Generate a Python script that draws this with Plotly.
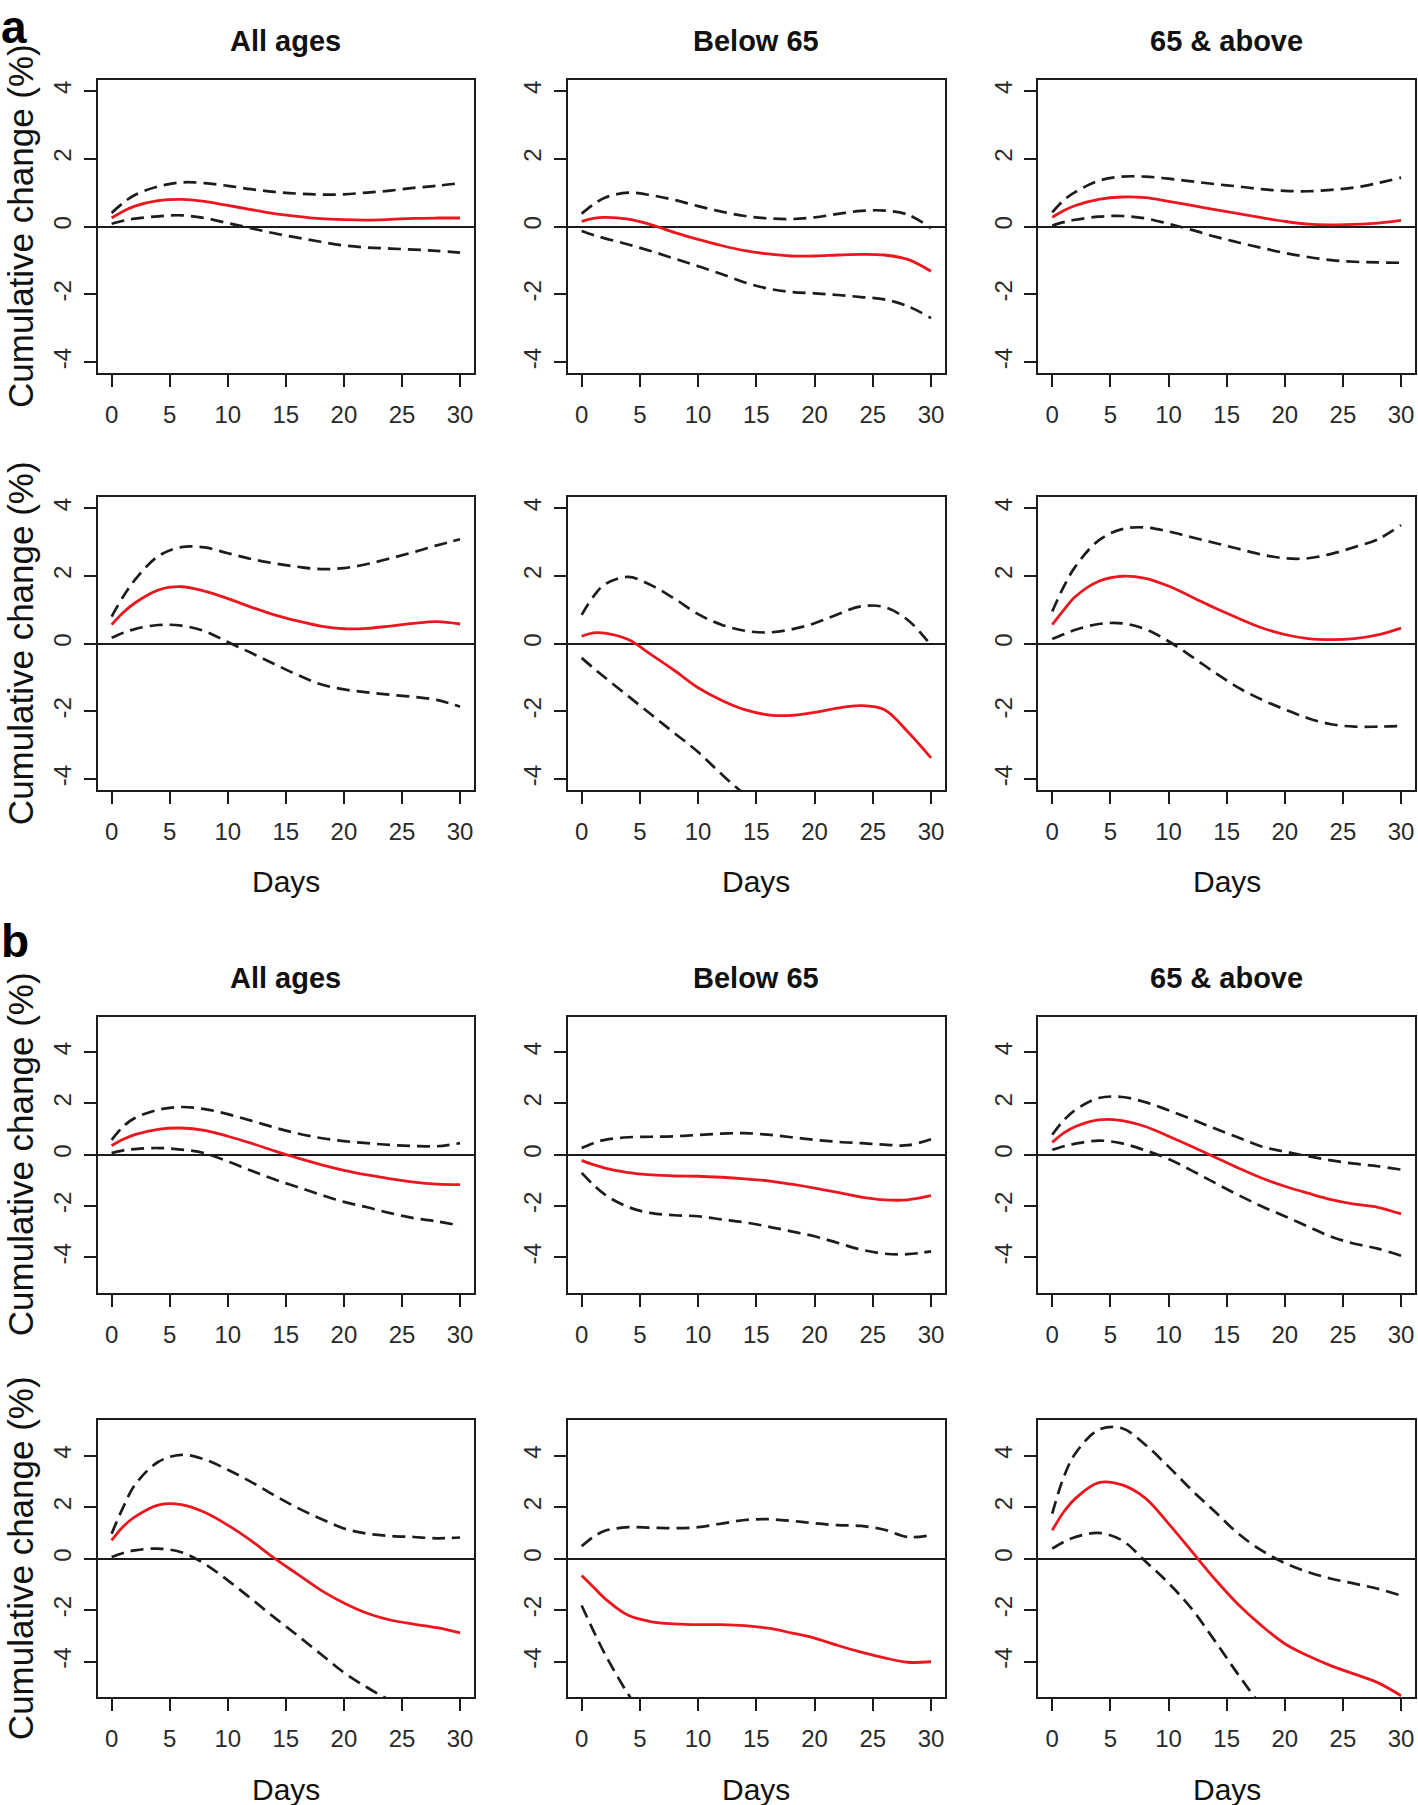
import plotly.graph_objects as go

# ---------------- data ----------------
days = [0, 1, 2, 4, 6, 8, 10, 12, 14, 16, 18, 20, 22, 24, 26, 28, 30]
panel_titles = ["All ages", "Below 65", "65 & above"]
x_ticks = [0, 5, 10, 15, 20, 25, 30]
y_ticks = [-4, -2, 0, 2, 4]
section_labels = ["a", "b"]
y_title = "Cumulative change (%)"
x_title = "Days"

# panel a, top row
a1_est = [0.25, 0.45, 0.6, 0.76, 0.8, 0.74, 0.62, 0.5, 0.38, 0.3, 0.23, 0.2, 0.19, 0.21, 0.24, 0.25, 0.25]
a1_upper = [0.4, 0.7, 0.93, 1.18, 1.3, 1.28, 1.2, 1.1, 1.02, 0.97, 0.94, 0.95, 1.0, 1.06, 1.14, 1.2, 1.28]
a1_lower = [0.08, 0.17, 0.23, 0.3, 0.33, 0.25, 0.1, -0.05, -0.2, -0.33, -0.45, -0.56, -0.62, -0.65, -0.68, -0.72, -0.77]

a2_est = [0.15, 0.24, 0.27, 0.22, 0.05, -0.18, -0.38, -0.56, -0.71, -0.81, -0.87, -0.87, -0.84, -0.82, -0.84, -0.97, -1.32]
a2_upper = [0.38, 0.65, 0.85, 1.0, 0.92, 0.78, 0.6, 0.44, 0.31, 0.24, 0.22, 0.27, 0.37, 0.46, 0.47, 0.35, -0.05]
a2_lower = [-0.13, -0.25, -0.35, -0.53, -0.73, -0.95, -1.17, -1.4, -1.65, -1.83, -1.93, -1.97, -2.02, -2.08, -2.15, -2.35, -2.7]

a3_est = [0.27, 0.47, 0.62, 0.8, 0.87, 0.85, 0.74, 0.62, 0.5, 0.38, 0.26, 0.15, 0.07, 0.05, 0.06, 0.1, 0.18]
a3_upper = [0.42, 0.78, 1.02, 1.35, 1.47, 1.47, 1.41, 1.33, 1.25, 1.18, 1.1, 1.05, 1.04, 1.08, 1.15, 1.28, 1.44]
a3_lower = [0.03, 0.13, 0.2, 0.29, 0.31, 0.24, 0.08, -0.1, -0.3, -0.47, -0.63, -0.78, -0.9, -0.99, -1.04, -1.06, -1.07]

# panel a, bottom row
a4_est = [0.56, 0.92, 1.2, 1.58, 1.68, 1.55, 1.33, 1.08, 0.85, 0.67, 0.52, 0.44, 0.45, 0.52, 0.6, 0.65, 0.58]
a4_upper = [0.8, 1.39, 1.88, 2.58, 2.85, 2.84, 2.67, 2.5, 2.37, 2.27, 2.2, 2.23, 2.35, 2.52, 2.7, 2.9, 3.08]
a4_lower = [0.17, 0.32, 0.43, 0.55, 0.53, 0.37, 0.05, -0.27, -0.6, -0.92, -1.2, -1.35, -1.44, -1.51, -1.57, -1.66, -1.86]

a5_est = [0.22, 0.32, 0.31, 0.12, -0.33, -0.8, -1.3, -1.67, -1.95, -2.1, -2.12, -2.03, -1.9, -1.83, -1.95, -2.6, -3.37]
a5_upper = [0.85, 1.39, 1.75, 1.97, 1.72, 1.32, 0.87, 0.56, 0.38, 0.33, 0.42, 0.6, 0.87, 1.1, 1.08, 0.7, -0.05]
a5_lower = [-0.42, -0.72, -1.0, -1.55, -2.1, -2.65, -3.2, -3.85, -4.45, -4.95, -5.3, -5.5, -5.6, -5.7, -6.0, -6.5, -7.2]

a6_est = [0.56, 1.0, 1.39, 1.84, 1.99, 1.93, 1.7, 1.38, 1.05, 0.75, 0.47, 0.27, 0.15, 0.12, 0.15, 0.26, 0.46]
a6_upper = [0.95, 1.69, 2.28, 3.05, 3.38, 3.43, 3.31, 3.14, 2.97, 2.8, 2.63, 2.52, 2.52, 2.65, 2.85, 3.08, 3.5]
a6_lower = [0.14, 0.28, 0.41, 0.58, 0.6, 0.43, 0.07, -0.38, -0.86, -1.3, -1.65, -1.94, -2.2, -2.38, -2.45, -2.45, -2.43]

# panel b, top row
b1_est = [0.35, 0.6, 0.78, 0.99, 1.04, 0.95, 0.72, 0.45, 0.15, -0.13, -0.39, -0.61, -0.79, -0.94, -1.07, -1.15, -1.17]
b1_upper = [0.58, 1.1, 1.43, 1.75, 1.86, 1.78, 1.58, 1.33, 1.06, 0.83, 0.65, 0.53, 0.45, 0.38, 0.34, 0.33, 0.45]
b1_lower = [0.06, 0.17, 0.22, 0.26, 0.2, 0.06, -0.26, -0.62, -0.96, -1.26, -1.56, -1.84, -2.05, -2.28, -2.47, -2.6, -2.77]

b2_est = [-0.22, -0.39, -0.52, -0.7, -0.79, -0.83, -0.84, -0.88, -0.94, -1.02, -1.15, -1.3, -1.47, -1.65, -1.76, -1.76, -1.6]
b2_upper = [0.26, 0.45, 0.58, 0.68, 0.7, 0.72, 0.77, 0.82, 0.84, 0.78, 0.68, 0.58, 0.5, 0.45, 0.39, 0.37, 0.6]
b2_lower = [-0.71, -1.17, -1.56, -2.04, -2.28, -2.36, -2.4, -2.52, -2.64, -2.8, -2.99, -3.18, -3.44, -3.7, -3.86, -3.88, -3.77]

b3_est = [0.48, 0.85, 1.1, 1.36, 1.33, 1.1, 0.72, 0.32, -0.1, -0.52, -0.91, -1.23, -1.5, -1.75, -1.93, -2.05, -2.31]
b3_upper = [0.78, 1.35, 1.75, 2.21, 2.25, 2.05, 1.73, 1.38, 1.02, 0.67, 0.32, 0.12, -0.06, -0.22, -0.35, -0.45, -0.58]
b3_lower = [0.19, 0.33, 0.43, 0.55, 0.44, 0.17, -0.17, -0.62, -1.1, -1.57, -2.01, -2.4, -2.8, -3.2, -3.47, -3.66, -3.94]

# panel b, bottom row
b4_est = [0.71, 1.25, 1.62, 2.08, 2.1, 1.8, 1.3, 0.7, 0.02, -0.6, -1.22, -1.72, -2.12, -2.38, -2.54, -2.68, -2.88]
b4_upper = [0.97, 2.0, 2.86, 3.75, 4.03, 3.85, 3.45, 2.98, 2.46, 1.97, 1.55, 1.17, 0.97, 0.88, 0.84, 0.79, 0.82]
b4_lower = [0.06, 0.22, 0.32, 0.39, 0.25, -0.2, -0.84, -1.55, -2.28, -2.98, -3.7, -4.42, -5.0, -5.5, -5.9, -6.2, -6.5]

b5_est = [-0.65, -1.1, -1.55, -2.2, -2.45, -2.53, -2.56, -2.56, -2.6, -2.7, -2.88, -3.08, -3.37, -3.63, -3.85, -4.02, -4.0]
b5_upper = [0.48, 0.84, 1.08, 1.22, 1.2, 1.18, 1.22, 1.36, 1.5, 1.53, 1.47, 1.37, 1.3, 1.27, 1.12, 0.84, 0.91]
b5_lower = [-1.82, -2.79, -3.7, -5.26, -6.5, -7.2, -7.5, -7.6, -7.7, -7.9, -8.2, -8.5, -8.9, -9.3, -9.8, -10.2, -10.0]

b6_est = [1.1, 1.82, 2.34, 2.95, 2.86, 2.35, 1.36, 0.28, -0.8, -1.78, -2.6, -3.3, -3.77, -4.16, -4.48, -4.81, -5.32]
b6_upper = [1.75, 3.18, 4.09, 5.0, 5.06, 4.42, 3.57, 2.66, 1.82, 0.97, 0.32, -0.17, -0.52, -0.78, -0.97, -1.17, -1.43]
b6_lower = [0.39, 0.65, 0.84, 1.0, 0.71, -0.1, -0.95, -1.95, -3.2, -4.5, -5.7, -6.6, -7.2, -7.6, -7.9, -8.1, -8.3]

panels = [
    (0, 0, a1_est, a1_upper, a1_lower), (0, 1, a2_est, a2_upper, a2_lower), (0, 2, a3_est, a3_upper, a3_lower),
    (1, 0, a4_est, a4_upper, a4_lower), (1, 1, a5_est, a5_upper, a5_lower), (1, 2, a6_est, a6_upper, a6_lower),
    (2, 0, b1_est, b1_upper, b1_lower), (2, 1, b2_est, b2_upper, b2_lower), (2, 2, b3_est, b3_upper, b3_lower),
    (3, 0, b4_est, b4_upper, b4_lower), (3, 1, b5_est, b5_upper, b5_lower), (3, 2, b6_est, b6_upper, b6_lower),
]

# ---------------- layout geometry (page pixels) ----------------
W, H = 1418, 1805
col_px = [(97.7, 474.0), (567.7, 945.0), (1038.3, 1415.0)]
row_px = [(80.0, 373.0), (497.3, 790.0), (1016.7, 1292.7), (1420.0, 1697.3)]
y_ranges = [(-4.32, 4.32), (-4.32, 4.32), (-5.38, 5.38), (-5.38, 5.38)]
x_range = (-1.2, 31.2)


def px_x(x):
    return x / W


def px_y(y):
    return 1 - y / H


FONT = "Liberation Sans, Arial, Helvetica, sans-serif"
RED = "rgb(236,22,30)"
DARK = "#1c1c1c"

fig = go.Figure()
layout = dict(
    width=W, height=H, autosize=False,
    margin=dict(l=0, r=0, t=0, b=0),
    paper_bgcolor="white", plot_bgcolor="white",
    showlegend=False, font=dict(family=FONT, color="#222"),
    annotations=[],
)

for i, (r, c, est, up, lo) in enumerate(panels, start=1):
    xs = "" if i == 1 else str(i)
    xl, xr = col_px[c]
    yt, yb = row_px[r]
    layout["xaxis" + xs] = dict(
        domain=[px_x(xl), px_x(xr)], anchor="y" + xs, range=list(x_range),
        tickmode="array", tickvals=x_ticks, ticktext=[str(v) for v in x_ticks],
        ticks="outside", ticklen=12, tickwidth=2, tickcolor=DARK,
        showline=True, mirror=True, linecolor=DARK, linewidth=2,
        showgrid=False, zeroline=False,
        tickfont=dict(family=FONT, size=24, color="#2a2a2a"),
        ticklabelstandoff=7,
    )
    layout["yaxis" + xs] = dict(
        domain=[px_y(yb), px_y(yt)], anchor="x" + xs, range=list(y_ranges[r]),
        tickmode="array", tickvals=y_ticks, ticktext=[str(v) for v in y_ticks],
        ticks="outside", ticklen=12, tickwidth=2, tickcolor=DARK,
        showline=True, mirror=True, linecolor=DARK, linewidth=2,
        showgrid=False, zeroline=True, zerolinecolor=DARK, zerolinewidth=2,
        tickangle=-90,
        tickfont=dict(family=FONT, size=24, color="#2a2a2a"),
        ticklabelstandoff=3,
    )
    xa, ya = "x" + xs, "y" + xs
    for series in (up, lo):
        fig.add_trace(go.Scatter(
            x=days, y=series, xaxis=xa, yaxis=ya, mode="lines",
            line=dict(color=DARK, width=2.7, dash="13px,7px", shape="spline"),
            hoverinfo="skip",
        ))
    fig.add_trace(go.Scatter(
        x=days, y=est, xaxis=xa, yaxis=ya, mode="lines",
        line=dict(color=RED, width=2.8, shape="spline"),
        hoverinfo="skip",
    ))

    # column titles on the first row of each section
    if r in (0, 2):
        layout["annotations"].append(dict(
            text="<b>%s</b>" % panel_titles[c], xref="paper", yref="paper",
            x=px_x((xl + xr) / 2), y=px_y(yt - 39), xanchor="center", yanchor="middle",
            showarrow=False, font=dict(family=FONT, size=29, color="#111"),
        ))
    # y titles on the first column
    if c == 0:
        layout["annotations"].append(dict(
            text=y_title, xref="paper", yref="paper", textangle=-90,
            x=px_x(0), y=px_y((yt + yb) / 2), xanchor="left", yanchor="middle",
            showarrow=False, borderpad=0, font=dict(family=FONT, size=35, color="#111"),
        ))
    # x titles on the second row of each section
    if r in (1, 3):
        layout["annotations"].append(dict(
            text=x_title, xref="paper", yref="paper",
            x=px_x((xl + xr) / 2), y=px_y(yb + 92), xanchor="center", yanchor="middle",
            showarrow=False, font=dict(family=FONT, size=30, color="#111"),
        ))

# section letters
for lab, ytop in zip(section_labels, [0, 914]):
    layout["annotations"].append(dict(
        text="<b>%s</b>" % lab, xref="paper", yref="paper",
        x=px_x(0), y=px_y(ytop), xanchor="left", yanchor="top",
        showarrow=False, borderpad=0, font=dict(family=FONT, size=46, color="#000"),
    ))

fig.update_layout(**layout)
# remove the browser's default 8px page margin so the figure fills the window exactly
fig.write_html(
    "out.html",
    config={"displayModeBar": False},
    post_script="document.body.style.margin='0';document.body.style.overflow='hidden';",
)
